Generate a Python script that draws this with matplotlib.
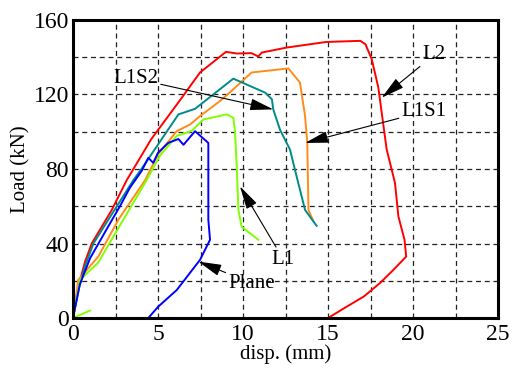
import numpy as np
import matplotlib.pyplot as plt
from matplotlib.ticker import MultipleLocator

plt.rcParams['font.family'] = ['Liberation Serif', 'DejaVu Serif']

# L2 (red)
l2_x = [0, 0.35, 0.7, 1.1, 2.28, 3.16, 4.6, 6.3, 7.47, 9.0, 9.63, 10.5, 10.9, 11.1,
        12.57, 14.9, 16.9, 17.2, 17.57, 17.96, 18.45, 18.94, 19.14, 19.5, 19.6,
        18.84, 18.06, 17.1, 16.1, 15.0]
l2_y = [0, 18, 30, 40, 58, 74, 96, 117, 131.8, 142.9, 142, 142.2, 140.4, 142.5,
        145.2, 148.2, 148.8, 147, 139, 123.7, 90.5, 72.5, 54.5, 42, 33,
        25.8, 18.8, 11.5, 6.1, 0]

# L1S1 (orange)
l1s1_x = [0, 0.31, 1.49, 2.67, 4.24, 5.0, 6.1, 6.9, 7.47, 8.65, 9.43, 10.5, 12.67,
          13.35, 13.65, 13.78, 13.85, 14.14]
l1s1_y = [0, 20.5, 33, 52.8, 74, 87.8, 100.3, 104, 108.4, 116.5, 122.8, 131.8, 134,
          126.4, 108.4, 94, 58, 52]

# L1S2 (teal)
l1s2_x = [0, 0.35, 0.7, 1.2, 2.37, 3.55, 4.14, 6.2, 7.18, 8.25, 9.43, 10.4, 11.3,
          11.7, 11.78, 12.18, 12.76, 13.25, 13.65, 14.33]
l1s2_y = [0, 16, 27.6, 40, 57, 74, 81.5, 109.3, 112.3, 120, 128.5, 124.6, 121,
          117.4, 112, 101, 90.5, 72.5, 58, 49.5]

# L1 (green)
l1_x = [0, 0.41, 1.47, 2.96, 4.33, 5.1, 6.1, 6.98, 7.47, 7.67, 9.04, 9.43, 9.53,
        9.63, 9.73, 9.92, 10.9]
l1_y = [0, 20.5, 29.6, 52.8, 74, 87, 97.8, 100.4, 104.8, 106.6, 109.3, 107.5, 100,
        81.5, 58, 49, 42]
l1_tail_x = [0, 1.0]
l1_tail_y = [0, 4]

# Plane (blue)
plane_x = [0, 0.4, 1.0, 2.0, 2.76, 3.35, 4.04, 4.43, 4.72, 5.0, 5.6, 6.2, 6.5,
           7.18, 7.96, 7.96, 8.06, 7.47, 6.1, 5.0, 4.43]
plane_y = [0, 18, 32, 48, 60, 70, 79, 86, 83.3, 88.7, 94, 96.1, 93,
           100.3, 94, 52.8, 42, 31.2, 15, 6, 0]

fig = plt.figure(figsize=(5.13, 3.70), dpi=100)
ax = fig.add_axes([0.1423, 0.1405, 0.8285, 0.8055])

lw = 1.4
ax.plot(l2_x, l2_y, color='#ff0000', lw=lw)
ax.plot(l1s1_x, l1s1_y, color='#ff8c1a', lw=lw)
ax.plot(l1s2_x, l1s2_y, color='#008b8b', lw=lw)
ax.plot(l1_x, l1_y, color='#80ff00', lw=lw)
ax.plot(l1_tail_x, l1_tail_y, color='#80ff00', lw=lw)
ax.plot(plane_x, plane_y, color='#0000ff', lw=lw)

ax.set_xlim(0, 25)
ax.set_ylim(0, 160)
ax.xaxis.set_major_locator(MultipleLocator(5))
ax.xaxis.set_minor_locator(MultipleLocator(2.5))
ax.yaxis.set_major_locator(MultipleLocator(40))
ax.yaxis.set_minor_locator(MultipleLocator(20))
ax.grid(which='both', color='#222222', linestyle=(0, (4, 3)), lw=0.9)
ax.set_axisbelow(True)
ax.tick_params(which='both', length=0, labelsize=17)
ax.tick_params(axis='x', pad=4)
ax.tick_params(axis='y', pad=3)
for s in ax.spines.values():
    s.set_linewidth(2.2)

ax.set_xlabel('disp. (mm)', fontsize=15, labelpad=0)
ax.set_ylabel('Load (kN)', fontsize=15, labelpad=2)

arr = dict(arrowstyle='-|>,head_length=0.8,head_width=0.2', color='black',
           lw=0.8, mutation_scale=18, shrinkA=0, shrinkB=0)
fs = 15
ax.annotate('L1S2', xy=(11.78, 112), xytext=(5.0, 128.5), fontsize=fs,
            ha='right', va='center', arrowprops=arr)
ax.annotate('L2', xy=(18.16, 118.3), xytext=(20.57, 136.2), fontsize=fs,
            ha='left', va='bottom', arrowprops=arr)
ax.annotate('L1S1', xy=(13.65, 94), xytext=(19.33, 105.7), fontsize=fs,
            ha='left', va='bottom', arrowprops=arr)
ax.annotate('L1', xy=(9.82, 70.7), xytext=(11.69, 36.6), fontsize=fs,
            ha='left', va='top', arrowprops=arr)
ax.annotate('Plane', xy=(7.37, 30.3), xytext=(9.14, 18.7), fontsize=fs,
            ha='left', va='center', arrowprops=arr)

fig.savefig('out.png', dpi=100)
